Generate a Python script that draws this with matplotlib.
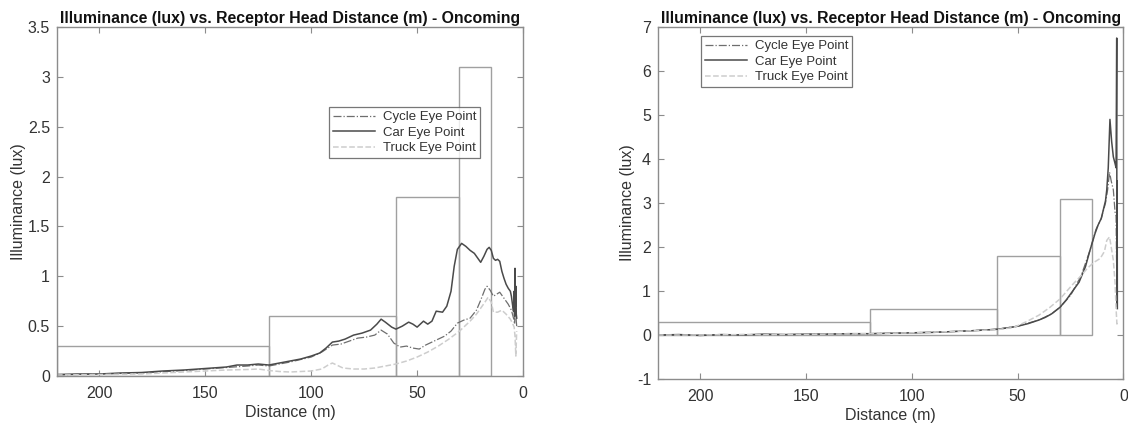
import matplotlib
matplotlib.use("Agg")
import matplotlib.pyplot as plt

plt.rcParams["font.family"] = ["Liberation Sans", "DejaVu Sans"]

# threshold boxes (distance start/end in m, illuminance limit in lux)
thr_start = [220, 120, 60, 30]
thr_end = [120, 60, 30, 15]
thr_level = [0.3, 0.6, 1.8, 3.1]

# left panel
left_car_d = [220, 210, 200, 190, 180, 170, 160, 150, 140, 135, 130, 125, 120, 115, 110, 105,
              100, 96, 93, 90, 87, 84, 80, 76, 72, 69, 67, 65, 62, 60, 57, 54, 52, 50, 47, 45,
              43, 41, 38, 36, 34, 32.5, 31, 29, 27, 25, 23, 21, 20, 18.5, 17, 16, 15, 14, 13,
              12, 11, 10, 9, 8, 7, 6, 5.5, 5, 4.5, 4.2, 4, 3.8, 3.6, 3.4, 3.2, 3.0]
left_car_v = [0.015, 0.02, 0.02, 0.03, 0.035, 0.05, 0.06, 0.075, 0.09, 0.11, 0.11, 0.12, 0.11,
              0.13, 0.15, 0.17, 0.2, 0.23, 0.28, 0.34, 0.35, 0.37, 0.41, 0.43, 0.46, 0.52, 0.57,
              0.54, 0.49, 0.47, 0.50, 0.54, 0.52, 0.49, 0.55, 0.52, 0.55, 0.65, 0.64, 0.70, 0.85,
              1.1, 1.27, 1.33, 1.30, 1.26, 1.23, 1.17, 1.14, 1.2, 1.27, 1.29, 1.26, 1.18, 1.16,
              1.17, 1.15, 1.05, 0.98, 0.92, 0.88, 0.85, 0.8, 0.72, 0.65, 0.85, 0.6, 1.08, 0.7,
              0.9, 0.62, 0.58]

left_cyc_d = [220, 200, 180, 160, 150, 140, 130, 125, 120, 110, 100, 95, 90, 86, 82, 78, 74, 70,
              67, 64, 61, 58, 55, 52, 49, 46, 43, 40, 37, 34, 31, 28, 25, 22, 20, 18, 17, 15.5,
              14, 12.5, 11, 9, 7, 5.5, 4.5, 4, 3.6, 3.2, 3.0]
left_cyc_v = [0.01, 0.02, 0.03, 0.055, 0.07, 0.085, 0.1, 0.11, 0.1, 0.14, 0.19, 0.24, 0.31,
              0.32, 0.35, 0.38, 0.39, 0.41, 0.46, 0.42, 0.33, 0.29, 0.30, 0.28, 0.27, 0.31, 0.34,
              0.37, 0.40, 0.45, 0.53, 0.56, 0.58, 0.66, 0.76, 0.87, 0.9, 0.86, 0.80, 0.82, 0.84,
              0.78, 0.72, 0.66, 0.58, 0.52, 0.75, 0.55, 0.5]

left_trk_d = [220, 200, 180, 160, 150, 140, 130, 125, 120, 115, 110, 100, 95, 92, 90, 88, 85,
              80, 75, 70, 65, 60, 55, 50, 45, 40, 35, 30, 25, 22, 20, 18, 16.5, 15, 14, 12,
              10, 8, 6, 5, 4.2, 3.8, 3.4, 3.0]
left_trk_v = [0.01, 0.015, 0.02, 0.04, 0.05, 0.06, 0.065, 0.07, 0.055, 0.045, 0.04, 0.05, 0.07,
              0.11, 0.13, 0.11, 0.08, 0.07, 0.07, 0.08, 0.1, 0.12, 0.15, 0.19, 0.24, 0.3, 0.37,
              0.45, 0.55, 0.62, 0.68, 0.74, 0.79, 0.74, 0.64, 0.64, 0.66, 0.62, 0.57, 0.53,
              0.49, 0.4, 0.2, 0.45]

# right panel
right_car_d = [220, 210, 200, 190, 180, 170, 160, 150, 140, 130, 120, 110, 100, 90, 80, 70, 60,
               55, 50, 45, 40, 37, 34, 30, 27, 24, 21, 18, 15.8, 13.5, 12, 10.5, 9.5, 8.5, 7.9,
               7.2, 6.4, 5.6, 4.8, 4.0, 3.5, 3.2, 3.1, 3.0, 2.9]
right_car_v = [0.0, 0.01, -0.01, 0.01, 0.0, 0.02, 0.01, 0.02, 0.02, 0.03, 0.03, 0.04, 0.05, 0.06,
               0.08, 0.1, 0.13, 0.16, 0.2, 0.26, 0.34, 0.4, 0.48, 0.63, 0.8, 1.0, 1.2, 1.55, 1.93,
               2.3, 2.5, 2.65, 2.85, 3.05, 3.3, 3.8, 4.9, 4.4, 4.05, 3.9, 3.8, 6.75, 0.65, 3.5, 0.6]

right_cyc_d = [220, 200, 180, 160, 140, 120, 100, 80, 60, 50, 40, 34, 30, 25, 20, 16, 13, 10.5,
               8.5, 7.5, 6.6, 5.8, 4.8, 4.0, 3.5, 3.1, 2.9]
right_cyc_v = [0.0, 0.0, 0.01, 0.01, 0.02, 0.03, 0.05, 0.08, 0.13, 0.2, 0.34, 0.48, 0.63, 0.9,
               1.35, 1.9, 2.4, 2.65, 3.0, 3.3, 3.7, 3.5, 3.3, 2.8, 2.7, 0.9, 0.6]

right_trk_d = [220, 200, 180, 160, 140, 120, 100, 80, 60, 52, 46, 40, 35, 30, 24, 20, 17, 14,
               11, 9, 7.9, 6.6, 5.8, 4.8, 4.0, 3.5, 3.1, 2.9]
right_trk_v = [0.0, 0.0, 0.01, 0.01, 0.02, 0.03, 0.05, 0.08, 0.12, 0.17, 0.3, 0.45, 0.62, 0.82,
               1.15, 1.35, 1.52, 1.65, 1.74, 1.9, 2.15, 2.23, 2.0, 1.7, 1.2, 0.6, 0.25, 0.3]

text_col = "#333333"
axis_col = "#8c8c8c"
box_col = "#a0a0a0"
title = "Illuminance (lux) vs. Receptor Head Distance (m) - Oncoming"


def widths(starts, ends):
    return [s - e for s, e in zip(starts, ends)]


def draw_panel(ax, car, cyc, trk, ylim, yticks, yticklabels):
    ax.bar(thr_end, thr_level, width=widths(thr_start, thr_end), align="edge",
           fill=False, edgecolor=box_col, linewidth=1.0)
    ax.plot(cyc[0], cyc[1], color="#6e6e6e", linestyle="-.", linewidth=0.9, label="Cycle Eye Point")
    ax.plot(car[0], car[1], color="#4a4a4a", linestyle="-", linewidth=1.1, label="Car Eye Point")
    ax.plot(trk[0], trk[1], color="#cdcdcd", linestyle="--", linewidth=1.1, label="Truck Eye Point")
    ax.set_xlim(220, 0)
    ax.set_ylim(*ylim)
    ax.set_xticks([200, 150, 100, 50, 0])
    ax.set_yticks(yticks)
    ax.set_yticklabels(yticklabels)
    ax.tick_params(direction="in", top=True, right=True, length=4, width=0.8,
                   colors=axis_col, labelcolor=text_col, labelsize=11.5)
    ax.tick_params(axis="x", pad=7)
    ax.tick_params(axis="y", pad=5)
    for sp in ax.spines.values():
        sp.set_color(axis_col)
        sp.set_linewidth(1.0)
    ax.set_xlabel("Distance (m)", fontsize=11.5, color=text_col, labelpad=3)
    ax.set_ylabel("Illuminance (lux)", fontsize=11.5, color=text_col, labelpad=1)
    ax.set_title(title, fontsize=11.4, fontweight="bold", color="#111111", pad=3)


fig = plt.figure(figsize=(11.28, 4.26), dpi=100)
ax1 = fig.add_axes([0.0505, 0.1174, 0.4132, 0.8192])
ax2 = fig.add_axes([0.5833, 0.1103, 0.4127, 0.8263])

draw_panel(ax1, (left_car_d, left_car_v), (left_cyc_d, left_cyc_v), (left_trk_d, left_trk_v),
           (0, 3.5), [0, 0.5, 1, 1.5, 2, 2.5, 3, 3.5],
           ["0", "0.5", "1", "1.5", "2", "2.5", "3", "3.5"])
draw_panel(ax2, (right_car_d, right_car_v), (right_cyc_d, right_cyc_v), (right_trk_d, right_trk_v),
           (-1, 7), list(range(-1, 8)), [str(v) for v in range(-1, 8)])

for ax, loc, anchor in [(ax1, "upper right", (0.908, 0.771)), (ax2, "upper left", (0.092, 0.974))]:
    leg = ax.legend(loc=loc, bbox_to_anchor=anchor, fontsize=9.5, frameon=True, fancybox=False,
                    borderpad=0.3, labelspacing=0.25, handlelength=3.2, handletextpad=0.6,
                    borderaxespad=0)
    leg.get_frame().set_edgecolor("#555555")
    leg.get_frame().set_linewidth(0.9)
    for t in leg.get_texts():
        t.set_color(text_col)

fig.savefig("out.png", dpi=100)
